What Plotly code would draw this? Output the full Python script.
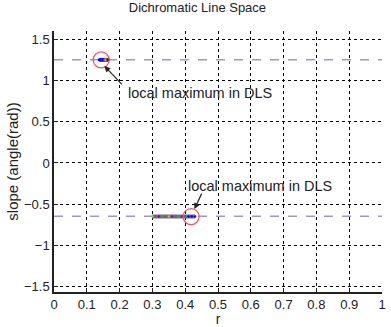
import plotly.graph_objects as go

# data
peak1_r = [0.138, 0.142, 0.146, 0.150, 0.154, 0.158, 0.162, 0.166]
peak1_slope = [1.25, 1.25, 1.25, 1.25, 1.25, 1.25, 1.25, 1.25]
peak1_colors = ["#0000ff", "#0000ff", "#2020ff", "#0000cc", "#cc00cc", "#e0c000", "#00a000", "#0000ff"]

peak2_r = [0.30, 0.31, 0.32, 0.33, 0.34, 0.35, 0.36, 0.37, 0.38, 0.39, 0.40, 0.41, 0.42, 0.43]
peak2_slope = [-0.65] * 14
peak2_colors = ["#c0c000", "#6060a0", "#a000a0", "#40a040", "#6060a0", "#c0c000", "#a000a0",
                "#6060a0", "#40a040", "#a000a0", "#6060a0", "#0000ff", "#0000ff", "#0000ff"]

max_r = [0.144, 0.418]
max_slope = [1.25, -0.65]
ref_slopes = [1.25, -0.645]

xticks = [0, 0.1, 0.2, 0.3, 0.4, 0.5, 0.6, 0.7, 0.8, 0.9, 1]
yticks = [-1.5, -1, -0.5, 0, 0.5, 1, 1.5]

fig = go.Figure()

for s in ref_slopes:
    fig.add_trace(go.Scatter(x=[0, 1], y=[s, s], mode="lines",
                             line=dict(color="#9a9ac8", width=1.5, dash="dash"),
                             showlegend=False, hoverinfo="skip"))

fig.add_trace(go.Scatter(x=peak2_r, y=peak2_slope, mode="lines",
                         line=dict(color="#707080", width=4), showlegend=False))
fig.add_trace(go.Scatter(x=peak1_r, y=peak1_slope, mode="lines",
                         line=dict(color="#3030c0", width=4), showlegend=False))
fig.add_trace(go.Scatter(x=peak1_r, y=peak1_slope, mode="markers",
                         marker=dict(color=peak1_colors, size=3), showlegend=False))
fig.add_trace(go.Scatter(x=peak2_r, y=peak2_slope, mode="markers",
                         marker=dict(color=peak2_colors, size=2.5), showlegend=False))
fig.add_trace(go.Scatter(x=max_r, y=max_slope, mode="markers",
                         marker=dict(symbol="circle-open", color="#ff5050", size=16,
                                     line=dict(width=1.2, color="#ff5050")),
                         showlegend=False))

font = "Liberation Sans, Arial, sans-serif"
annos = [
    dict(x=0.1536, y=1.176, ax=19, ay=20, text="", showarrow=True, arrowhead=2,
         arrowsize=1, arrowwidth=1.2, arrowcolor="#222"),
    dict(x=0.218, y=0.85, text="local maximum in DLS", showarrow=False,
         xanchor="left", yanchor="middle", font=dict(size=14.5, color="#222", family=font)),
    dict(x=0.428, y=-0.56, ax=8, ay=-17, text="", showarrow=True, arrowhead=2,
         arrowsize=1, arrowwidth=1.2, arrowcolor="#222"),
    dict(x=0.402, y=-0.275, text="local maximum in DLS", showarrow=False,
         xanchor="left", yanchor="middle", font=dict(size=14.5, color="#222", family=font)),
]

fig.update_layout(
    width=391, height=327,
    margin=dict(l=54, r=5, t=31, b=33),
    paper_bgcolor="white", plot_bgcolor="white",
    font=dict(family=font, size=13, color="#222"),
    title=dict(text="Dichromatic Line Space", x=0.505, xanchor="center", y=0.99, yanchor="top",
               font=dict(size=13, color="#222")),
    annotations=annos,
    xaxis=dict(range=[0, 1], tickvals=xticks, ticktext=[str(t) for t in xticks],
               showgrid=True, gridcolor="black", griddash="dot", gridwidth=1,
               showline=True, linecolor="#222", linewidth=1.5, ticks="inside", ticklen=4,
               tickcolor="#222", zeroline=False, tickfont=dict(size=13),
               title=dict(text="r", standoff=0, font=dict(size=14))),
    yaxis=dict(range=[-1.565, 1.6], tickvals=yticks,
               ticktext=["\u22121.5", "\u22121", "\u22120.5", "0", "0.5", "1", "1.5"],
               showgrid=True, gridcolor="black", griddash="dot", gridwidth=1,
               showline=True, linecolor="#222", linewidth=1.5, ticks="inside", ticklen=4,
               tickcolor="#222", zeroline=False, tickfont=dict(size=13),
               title=dict(text="slope (angle(rad))", standoff=2, font=dict(size=15))),
)

fig.write_html("out.html")
